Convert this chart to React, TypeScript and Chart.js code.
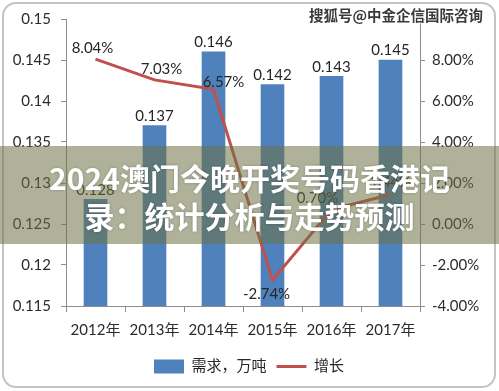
import React, { useEffect, useRef } from "react";
import { Chart, registerables } from "chart.js";

Chart.register(...registerables);

const categories = ["2012年", "2013年", "2014年", "2015年", "2016年", "2017年"];
const demand = [0.128, 0.137, 0.146, 0.142, 0.143, 0.145];
const growth = [8.04, 7.03, 6.57, -2.74, 0.7, 1.44];
const seriesNames = ["需求，万吨", "增长"];
const titleLines = ["2024澳门今晚开奖号码香港记", "录：统计分析与走势预测"];
const watermark = "搜狐号@中金企信国际咨询";

const lineLabelOffsets: [number, number][] = [
  [-3, -11],
  [7, -11],
  [10, -7],
  [-6, 14],
  [-14, -11],
  [0, -12],
];

const FONT = 'Lato, "Noto Sans CJK SC", sans-serif';

const labelPlugin = {
  id: "valueLabels",
  afterDatasetsDraw(chart: any) {
    const ctx = chart.ctx;
    ctx.save();
    ctx.font = "15px " + FONT;
    ctx.fillStyle = "#262626";
    ctx.textAlign = "center";
    const barMeta = chart.getDatasetMeta(0);
    barMeta.data.forEach((el: any, i: number) => {
      ctx.textBaseline = "bottom";
      ctx.fillText(String(demand[i]), el.x, el.y - 2);
    });
    const lineMeta = chart.getDatasetMeta(1);
    lineMeta.data.forEach((el: any, i: number) => {
      ctx.textBaseline = "middle";
      const [dx, dy] = lineLabelOffsets[i];
      ctx.fillText(growth[i].toFixed(2) + "%", el.x + dx, el.y + dy);
    });
    ctx.restore();
  },
};

export default function App() {
  const canvasRef = useRef<HTMLCanvasElement | null>(null);

  useEffect(() => {
    if (!canvasRef.current) return;
    const axisColor = "#8c8c8c";
    const tickColor = "#2b2b2b";
    const chart = new Chart(canvasRef.current, {
      type: "bar",
      data: {
        labels: categories,
        datasets: [
          {
            type: "bar",
            label: seriesNames[0],
            data: demand,
            backgroundColor: "#4F81BD",
            borderWidth: 0,
            barThickness: 23,
            yAxisID: "y",
            order: 1,
            pointStyle: "rect",
          } as any,
          {
            type: "line",
            label: seriesNames[1],
            data: growth,
            borderColor: "#C0504D",
            backgroundColor: "#C0504D",
            borderWidth: 3,
            pointRadius: 0,
            tension: 0,
            yAxisID: "y1",
            order: 0,
            pointStyle: "line",
          } as any,
        ],
      },
      options: {
        responsive: false,
        animation: false,
        devicePixelRatio: 1,
        layout: { padding: { left: 8, right: 9, top: 19, bottom: 7 } },
        plugins: {
          tooltip: { enabled: false },
          legend: {
            position: "bottom",
            labels: {
              usePointStyle: true,
              pointStyleWidth: 30,
              boxHeight: 14,
              color: "#262626",
              font: { size: 15, family: FONT },
              padding: 10,
              sort: (a: any, b: any) => a.datasetIndex - b.datasetIndex,
            },
          },
        },
        scales: {
          x: {
            grid: {
              display: true,
              drawOnChartArea: false,
              drawTicks: true,
              tickLength: 6,
              color: axisColor,
              offset: true,
            },
            border: { display: true, color: axisColor, width: 1 },
            ticks: { color: tickColor, font: { size: 15, family: FONT }, padding: 9, maxRotation: 0 },
            afterFit: (s: any) => {
              s.height = 43;
            },
          },
          y: {
            position: "left",
            min: 0.115,
            max: 0.15,
            grid: { display: true, drawOnChartArea: false, drawTicks: true, tickLength: 5, color: axisColor },
            border: { display: true, color: axisColor, width: 1 },
            ticks: {
              stepSize: 0.005,
              color: tickColor,
              font: { size: 15, family: FONT },
              padding: 10,
              callback: (v: any) => String(Number(Number(v).toFixed(3))),
            },
            afterFit: (s: any) => {
              s.width = 58;
            },
          },
          y1: {
            position: "right",
            min: -4,
            max: 10,
            grid: { display: true, drawOnChartArea: false, drawTicks: true, tickLength: 5, color: axisColor },
            border: { display: true, color: axisColor, width: 1 },
            ticks: {
              stepSize: 2,
              color: tickColor,
              font: { size: 15, family: FONT },
              padding: 7,
              callback: (v: any) => (Number(v) >= 10 ? "" : Number(v).toFixed(2) + "%"),
            },
            afterFit: (s: any) => {
              s.width = 70;
            },
          },
        },
      } as any,
      plugins: [labelPlugin],
    });
    return () => chart.destroy();
  }, []);

  return (
    <div
      style={{
        position: "absolute",
        left: 0,
        top: 0,
        width: 499,
        height: 391,
        background: "#ffffff",
        overflow: "hidden",
      }}
    >
      <canvas ref={canvasRef} width={499} height={391} style={{ position: "absolute", left: 0, top: 0, width: 499, height: 391 }} />
      <div
        style={{
          position: "absolute",
          left: 2,
          top: 2,
          width: 494,
          height: 386,
          boxSizing: "border-box",
          border: "2px solid #c4c4c4",
          borderRadius: 14,
          pointerEvents: "none",
        }}
      />
      <div
        style={{
          position: "absolute",
          right: 16,
          top: 6,
          fontFamily: '"Noto Sans CJK SC", sans-serif',
          fontWeight: 700,
          fontSize: 14.5,
          color: "#3a3a3a",
          lineHeight: "18px",
          whiteSpace: "nowrap",
          textShadow: "0 0 2px #fff, 0 0 2px #fff, 0 0 1px #fff",
        }}
      >
        {watermark}
      </div>
      <div
        style={{
          position: "absolute",
          left: 0,
          top: 146,
          width: 499,
          height: 98,
          background: "rgba(110,115,70,0.55)",
        }}
      />
      <div
        style={{
          position: "absolute",
          left: 0,
          top: 158,
          width: 499,
          textAlign: "center",
          fontFamily: '"Noto Sans CJK SC", sans-serif',
          fontWeight: 700,
          fontSize: 30,
          lineHeight: "38px",
          color: "#ffffff",
          whiteSpace: "nowrap",
          textShadow: "0 0 3px rgba(0,0,0,0.25)",
        }}
      >
        {titleLines.map((t, i) => (
          <div key={i}>{t}</div>
        ))}
      </div>
    </div>
  );
}
